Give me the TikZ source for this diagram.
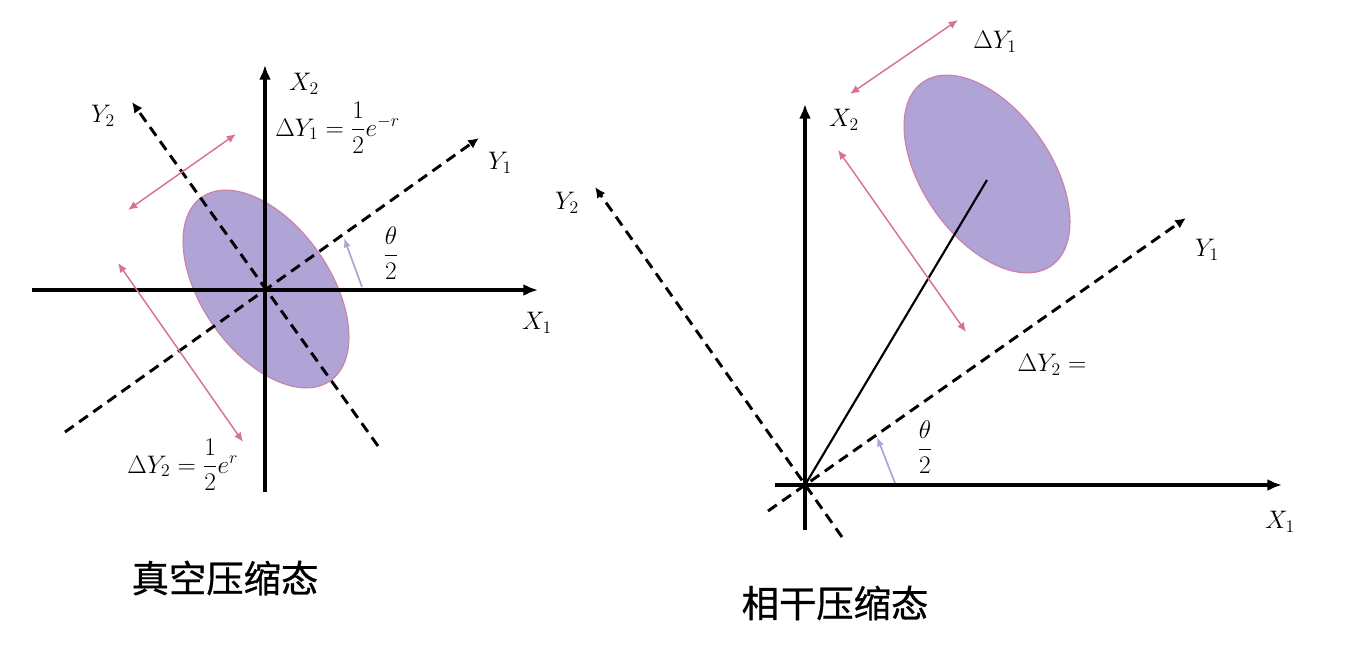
\RequirePackage{fix-cm}
\documentclass[tikz,border=0pt]{standalone}
\usepackage{amsmath}
\usepackage{fontspec}
\newfontfamily\cjk[FakeBold=0.8]{Noto Sans CJK SC}
\usetikzlibrary{arrows.meta}
\definecolor{ellfill}{HTML}{B0A3D6}
\definecolor{ellline}{HTML}{C982AC}
\definecolor{pinkarr}{HTML}{D8738F}
\definecolor{lavarr}{HTML}{A9A6D8}
\begin{document}
\begin{tikzpicture}[x=0.75pt,y=-0.75pt,
  axisline/.style={line width=2.5pt,-{Latex[length=11pt,width=9pt]}},
  dashaxis/.style={line width=2.2pt,dash pattern=on 8pt off 5pt,-{Latex[length=8pt,width=7.5pt]}},
  spread/.style={draw=pinkarr,line width=1.1pt,{Latex[length=7pt,width=6pt]}-{Latex[length=7pt,width=6pt]}},
  rotarr/.style={draw=lavarr,line width=1.3pt,-{Latex[length=7pt,width=5.5pt]}},
  ellstyle/.style={fill=ellfill,draw=ellline,line width=0.9pt},
  lab/.style={inner sep=0pt,font=\fontsize{19}{21}\selectfont},
  title/.style={inner sep=0pt,font=\fontsize{28}{32}\selectfont\cjk}]
\useasboundingbox (0,0) rectangle (1366,650);

% ===== Left: vacuum squeezed state =====
\coordinate (LO) at (266,290);
\coordinate (LX1a) at (32,290);   \coordinate (LX1b) at (538,290);
\coordinate (LX2a) at (265,492);  \coordinate (LX2b) at (265,65);
\coordinate (LY1a) at (65,432);   \coordinate (LY1b) at (479,138);
\coordinate (LY2a) at (378,446);  \coordinate (LY2b) at (132,102);

\begin{scope}[shift={(266,289)},rotate=125]
  \path[ellstyle] (0,0) ellipse (112 and 64);
\end{scope}

\draw[dashaxis] (LY1a) -- (LY1b);
\draw[dashaxis] (LY2a) -- (LY2b);
\draw[axisline] (LX1a) -- (LX1b);
\draw[axisline] (LX2a) -- (LX2b);

\coordinate (LS1a) at (128,210); \coordinate (LS1b) at (236,134);
\coordinate (LS2a) at (118,263); \coordinate (LS2b) at (243,442);
\draw[spread] (LS1a) -- (LS1b);
\draw[spread] (LS2a) -- (LS2b);
\coordinate (LRa) at (362,287); \coordinate (LRb) at (344,238);
\draw[rotarr] (LRa) -- (LRb);

\node[lab] (lx1) at (537,323) {$X_1$};
\node[lab] (lx2) at (304,84) {$X_2$};
\node[lab] (ly1) at (500,163) {$Y_1$};
\node[lab] (ly2) at (103,116) {$Y_2$};
\node[lab,anchor=west] (ld1) at (275,128) {$\Delta Y_1=\dfrac{1}{2}e^{-r}$};
\node[lab,anchor=west] (ld2) at (127,465) {$\Delta Y_2=\dfrac{1}{2}e^{r}$};
\node[lab] (lth) at (391,253) {$\dfrac{\theta}{2}$};
\node[title] (lt) at (225,578) {真空压缩态};

% ===== Right: coherent squeezed state =====
\coordinate (RO) at (805,485);
\coordinate (RX1a) at (775,485);  \coordinate (RX1b) at (1282,485);
\coordinate (RX2a) at (805,530);  \coordinate (RX2b) at (805,104);
\coordinate (RY1a) at (768,511);  \coordinate (RY1b) at (1186,218);
\coordinate (RY2a) at (842,537);  \coordinate (RY2b) at (595,187);
\coordinate (RC) at (987,180);

\begin{scope}[shift={(987,174)},rotate=125]
  \path[ellstyle] (0,0) ellipse (112 and 64);
\end{scope}

\draw[dashaxis] (RY1a) -- (RY1b);
\draw[dashaxis] (RY2a) -- (RY2b);
\draw[axisline] (RX1a) -- (RX1b);
\draw[axisline] (RX2a) -- (RX2b);
\draw[line width=1.6pt] (RO) -- (RC);

\coordinate (RS1a) at (850,94);  \coordinate (RS1b) at (958,20);
\coordinate (RS2a) at (838,150); \coordinate (RS2b) at (966,332);
\draw[spread] (RS1a) -- (RS1b);
\draw[spread] (RS2a) -- (RS2b);
\coordinate (RRa) at (895,483); \coordinate (RRb) at (877,437);
\draw[rotarr] (RRa) -- (RRb);

\node[lab] (rx1) at (1280,522) {$X_1$};
\node[lab] (rx2) at (844,120) {$X_2$};
\node[lab] (ry1) at (1207,250) {$Y_1$};
\node[lab] (ry2) at (567,203) {$Y_2$};
\node[lab] (rd1) at (995,42) {$\Delta Y_1$};
\node[lab] (rd2) at (1052,365) {$\Delta Y_2=$};
\node[lab] (rth) at (925,447) {$\dfrac{\theta}{2}$};
\node[title] (rt) at (835,603) {相干压缩态};
\end{tikzpicture}
\end{document}
